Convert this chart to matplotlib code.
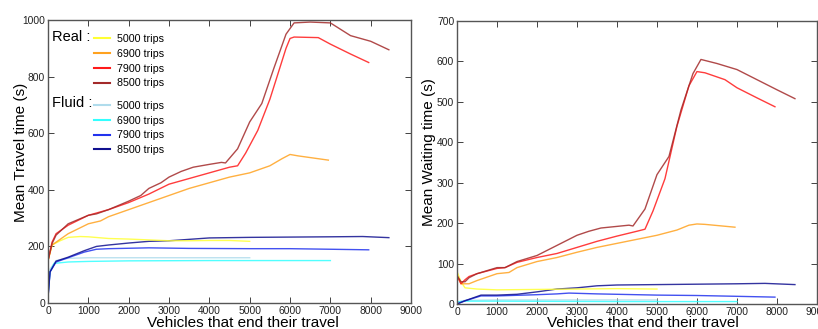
import matplotlib
matplotlib.use('Agg')
import matplotlib.pyplot as plt
from matplotlib.lines import Line2D

plt.rcParams['font.family'] = ['Liberation Sans', 'DejaVu Sans']

# ---- mean travel time (left panel) ----
real_8500_x = [0, 100, 200, 500, 1000, 1200, 1500, 2000, 2300, 2500, 2800, 3000, 3300, 3600, 4000, 4300, 4400,
               4700, 5000, 5300, 5600, 5900, 6100, 6500, 7000, 7500, 8000, 8450]
real_8500_y = [150, 210, 240, 280, 310, 315, 330, 360, 380, 405, 425, 445, 465, 480, 490, 497, 495,
               545, 640, 705, 830, 950, 990, 993, 990, 945, 925, 895]
real_7900_x = [0, 100, 200, 500, 1000, 1500, 2000, 2500, 3000, 3500, 4000, 4500, 4700, 4900, 5200, 5500,
               5700, 5900, 6000, 6100, 6700, 7000, 7500, 7950]
real_7900_y = [150, 215, 245, 275, 310, 330, 355, 385, 420, 440, 460, 480, 485, 530, 610, 720,
               810, 900, 935, 940, 938, 915, 880, 850]
real_6900_x = [0, 100, 300, 500, 1000, 1300, 1500, 2000, 2500, 3000, 3500, 4000, 4500, 5000, 5500, 5800,
               6000, 6200, 6950]
real_6900_y = [150, 205, 225, 245, 280, 290, 305, 330, 355, 380, 405, 425, 445, 460, 485, 510,
               525, 520, 505]
real_5000_x = [0, 100, 300, 500, 800, 1000, 1500, 2000, 2500, 3000, 3500, 4000, 4500, 5000]
real_5000_y = [150, 205, 220, 232, 235, 234, 228, 226, 223, 220, 220, 221, 221, 218]

fluid_5000_x = [0, 50, 200, 500, 1000, 3000, 5000]
fluid_5000_y = [30, 120, 150, 158, 160, 160, 160]
fluid_6900_x = [0, 50, 150, 500, 1000, 2000, 4000, 7000]
fluid_6900_y = [30, 110, 140, 145, 147, 149, 150, 150]
fluid_7900_x = [0, 50, 200, 500, 900, 1200, 1500, 2500, 3500, 5000, 6000, 7000, 7950]
fluid_7900_y = [20, 110, 145, 160, 180, 190, 192, 195, 193, 192, 192, 190, 188]
fluid_8500_x = [0, 50, 200, 500, 900, 1200, 1500, 2000, 2500, 3000, 3500, 4000, 5000, 6000, 7000, 7800, 8450]
fluid_8500_y = [20, 110, 148, 162, 185, 200, 205, 212, 218, 220, 225, 230, 232, 233, 234, 235, 231]

# ---- mean waiting time (right panel) ----
wreal_8500_x = [0, 100, 200, 300, 500, 1000, 1200, 1500, 2000, 2300, 2500, 3000, 3300, 3600, 4000, 4300, 4400,
                4700, 5000, 5300, 5600, 5900, 6100, 6500, 7000, 7500, 8000, 8450]
wreal_8500_y = [70, 55, 55, 65, 75, 90, 90, 105, 120, 135, 145, 170, 180, 188, 192, 195, 193,
                235, 320, 365, 480, 570, 605, 595, 580, 555, 530, 508]
wreal_7900_x = [0, 100, 200, 300, 500, 1000, 1200, 1500, 2000, 2500, 3000, 3500, 4000, 4500, 4700, 4900,
                5200, 5500, 5800, 6000, 6200, 6700, 7000, 7500, 7950]
wreal_7900_y = [70, 50, 60, 68, 75, 88, 90, 103, 115, 125, 140, 155, 168, 180, 185, 230,
                310, 440, 540, 575, 572, 555, 535, 510, 488]
wreal_6900_x = [0, 100, 300, 500, 1000, 1300, 1500, 2000, 2500, 3000, 3500, 4000, 4500, 5000, 5500, 5800,
                6000, 6200, 6950]
wreal_6900_y = [70, 50, 50, 58, 75, 78, 90, 105, 115, 128, 140, 150, 160, 170, 183, 195,
                198, 197, 190]
wreal_5000_x = [0, 100, 200, 500, 1000, 2000, 3000, 4000, 5000]
wreal_5000_y = [80, 55, 40, 37, 35, 36, 37, 38, 37]

wfluid_5000_x = [0, 200, 1000, 3000, 5000]
wfluid_5000_y = [5, 9, 10, 10, 10]
wfluid_6900_x = [0, 200, 1000, 4000, 7000]
wfluid_6900_y = [5, 7, 7, 6, 6]
wfluid_7900_x = [0, 200, 600, 1000, 2000, 2500, 2800, 3500, 5000, 6000, 7000, 7950]
wfluid_7900_y = [0, 8, 20, 20, 23, 25, 27, 25, 22, 21, 19, 17]
wfluid_8500_x = [0, 200, 600, 1000, 1500, 2000, 2500, 3000, 3500, 4000, 5000, 6000, 7000, 7700, 8450]
wfluid_8500_y = [0, 8, 22, 22, 24, 30, 37, 40, 45, 47, 48, 49, 50, 51, 48]

trip_labels = ['5000 trips', '6900 trips', '7900 trips', '8500 trips']
real_colors = ['#ffff33', '#ffa21f', '#ff1a1a', '#a32a2a']
fluid_colors = ['#b0dcec', '#33ffff', '#2233ee', '#10108f']

left_real = [(real_5000_x, real_5000_y), (real_6900_x, real_6900_y),
             (real_7900_x, real_7900_y), (real_8500_x, real_8500_y)]
left_fluid = [(fluid_5000_x, fluid_5000_y), (fluid_6900_x, fluid_6900_y),
              (fluid_7900_x, fluid_7900_y), (fluid_8500_x, fluid_8500_y)]
right_real = [(wreal_5000_x, wreal_5000_y), (wreal_6900_x, wreal_6900_y),
              (wreal_7900_x, wreal_7900_y), (wreal_8500_x, wreal_8500_y)]
right_fluid = [(wfluid_5000_x, wfluid_5000_y), (wfluid_6900_x, wfluid_6900_y),
               (wfluid_7900_x, wfluid_7900_y), (wfluid_8500_x, wfluid_8500_y)]

fig = plt.figure(figsize=(8.18, 3.29), dpi=100)
ax1 = fig.add_axes([0.0587, 0.079, 0.4438, 0.860])
ax2 = fig.add_axes([0.5587, 0.076, 0.440, 0.860])


def style_axis(ax, ymax, ystep, ylabel, xlab_x, xlab_y, ylab_x, ylab_y):
    ax.set_xlim(0, 9000)
    ax.set_ylim(0, ymax)
    ax.set_xticks(range(0, 9001, 1000))
    ax.set_yticks(range(0, ymax + 1, ystep))
    ax.tick_params(direction='in', length=4, width=0.6, top=True, right=True,
                   labelsize=7.4, colors='#222222', pad=2)
    for s in ax.spines.values():
        s.set_color('#555555')
        s.set_linewidth(1.0)
    ax.set_xlabel('Vehicles that end their travel', fontsize=11)
    ax.set_ylabel(ylabel, fontsize=11)
    ax.xaxis.set_label_coords(xlab_x, xlab_y)
    ax.yaxis.set_label_coords(ylab_x, ylab_y)


for (x, y), c in zip(left_fluid, fluid_colors):
    ax1.plot(x, y, color=c, lw=1.0, alpha=0.85)
for (x, y), c in zip(left_real, real_colors):
    ax1.plot(x, y, color=c, lw=1.0, alpha=0.85)
for (x, y), c in zip(right_fluid, fluid_colors):
    ax2.plot(x, y, color=c, lw=1.0, alpha=0.85)
for (x, y), c in zip(right_real, real_colors):
    ax2.plot(x, y, color=c, lw=1.0, alpha=0.85)

style_axis(ax1, 1000, 200, 'Mean Travel time (s)', 0.537, -0.047, -0.055, 0.534)
style_axis(ax2, 700, 100, 'Mean Waiting time (s)', 0.517, -0.043, -0.058, 0.537)

real_handles = [Line2D([], [], color=c, lw=1.5) for c in real_colors]
fluid_handles = [Line2D([], [], color=c, lw=1.5) for c in fluid_colors]
leg_kw = dict(frameon=False, fontsize=7.7, handlelength=1.5, handletextpad=0.6,
              labelspacing=0.45, borderpad=0, borderaxespad=0, loc='upper left')
leg1 = ax1.legend(real_handles, trip_labels, bbox_to_anchor=(0.127, 0.951), **leg_kw)
ax1.add_artist(leg1)
ax1.legend(fluid_handles, trip_labels, bbox_to_anchor=(0.127, 0.715), **leg_kw)
ax1.text(0.01, 0.94, 'Real :', transform=ax1.transAxes, fontsize=10.5,
         va='center', ha='left')
ax1.text(0.01, 0.708, 'Fluid :', transform=ax1.transAxes, fontsize=10.5,
         va='center', ha='left')

fig.savefig('out.png', dpi=100)
